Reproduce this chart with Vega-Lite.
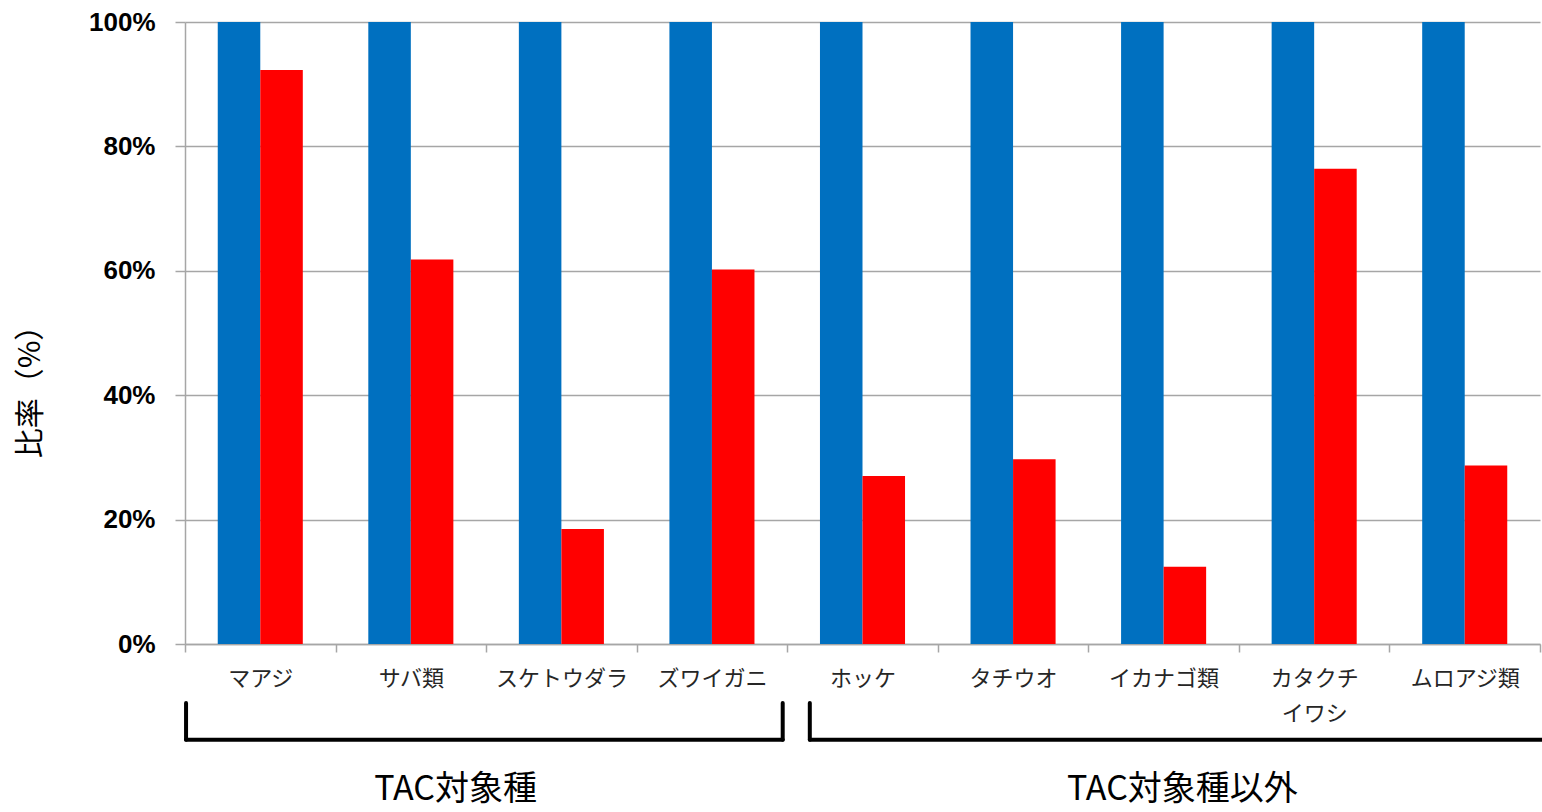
{
  "$schema": "https://vega.github.io/schema/vega-lite/v6.json",
  "width": 1355,
  "height": 622,
  "autosize": {"type": "none"},
  "padding": {"left": 185, "top": 22, "right": 2, "bottom": 168},
  "background": "white",
  "config": {"view": {"stroke": null}, "font": "Noto Sans CJK JP"},
  "datasets": {
    "ratio": [
      {"species": "マアジ", "series": "基準", "value": 1.0},
      {"species": "マアジ", "series": "比率", "value": 0.923},
      {"species": "サバ類", "series": "基準", "value": 1.0},
      {"species": "サバ類", "series": "比率", "value": 0.618},
      {"species": "スケトウダラ", "series": "基準", "value": 1.0},
      {"species": "スケトウダラ", "series": "比率", "value": 0.185},
      {"species": "ズワイガニ", "series": "基準", "value": 1.0},
      {"species": "ズワイガニ", "series": "比率", "value": 0.602},
      {"species": "ホッケ", "series": "基準", "value": 1.0},
      {"species": "ホッケ", "series": "比率", "value": 0.27},
      {"species": "タチウオ", "series": "基準", "value": 1.0},
      {"species": "タチウオ", "series": "比率", "value": 0.297},
      {"species": "イカナゴ類", "series": "基準", "value": 1.0},
      {"species": "イカナゴ類", "series": "比率", "value": 0.124},
      {"species": "カタクチイワシ", "series": "基準", "value": 1.0},
      {"species": "カタクチイワシ", "series": "比率", "value": 0.764},
      {"species": "ムロアジ類", "series": "基準", "value": 1.0},
      {"species": "ムロアジ類", "series": "比率", "value": 0.287}
    ],
    "groups": [
      {"group": "TAC対象種", "x0": 0.007, "x1": 3.97, "xl": 1.797},
      {"group": "TAC対象種以外", "x0": 4.15, "x1": 9.03, "xl": 6.625}
    ]
  },
  "layer": [
    {
      "data": {"name": "ratio"},
      "mark": {"type": "bar"},
      "encoding": {
        "x": {
          "field": "species",
          "type": "nominal",
          "sort": ["マアジ", "サバ類", "スケトウダラ", "ズワイガニ", "ホッケ", "タチウオ", "イカナゴ類", "カタクチイワシ", "ムロアジ類"],
          "scale": {"paddingInner": 0, "paddingOuter": 0},
          "axis": {
            "title": null,
            "tickBand": "extent",
            "tickSize": 8,
            "tickColor": "#a6a6a6",
            "tickWidth": 1.5,
            "domainColor": "#a6a6a6",
            "domainWidth": 1.5,
            "grid": false,
            "labelAngle": 0,
            "labelFont": "Noto Sans CJK JP",
            "labelFontSize": 22,
            "labelColor": "#262626",
            "labelPadding": 16,
            "labelLineHeight": 35,
            "labelExpr": "datum.value == 'カタクチイワシ' ? ['カタクチ', 'イワシ'] : datum.value"
          }
        },
        "xOffset": {
          "field": "series",
          "type": "nominal",
          "sort": ["基準", "比率"],
          "scale": {"paddingInner": 0, "paddingOuter": 0.77}
        },
        "y": {
          "field": "value",
          "type": "quantitative",
          "scale": {"domain": [0, 1], "nice": false},
          "axis": {
            "title": "比率（%）",
            "format": ".0%",
            "values": [0, 0.2, 0.4, 0.6, 0.8, 1],
            "tickSize": 10,
            "tickColor": "#a6a6a6",
            "tickWidth": 1.5,
            "domainColor": "#a6a6a6",
            "domainWidth": 1.5,
            "gridColor": "#a6a6a6",
            "gridWidth": 1.5,
            "labelFont": "Liberation Sans",
            "labelFontWeight": "bold",
            "labelFontSize": 26,
            "labelColor": "black",
            "labelPadding": 20,
            "titleFont": "Noto Sans CJK JP",
            "titleFontSize": 30,
            "titleFontWeight": "normal",
            "titleColor": "black",
            "titleAngle": 270,
            "titleX": -155,
            "titleY": 362,
            "titleBaseline": "middle"
          }
        },
        "color": {
          "field": "series",
          "type": "nominal",
          "scale": {"domain": ["基準", "比率"], "range": ["#0070C0", "#FF0000"]},
          "legend": null
        }
      }
    },
    {
      "data": {"name": "groups"},
      "mark": {"type": "rule", "color": "black", "strokeWidth": 4, "strokeCap": "round"},
      "encoding": {
        "x": {"field": "x0", "type": "quantitative", "scale": {"domain": [0, 9], "nice": false, "zero": false}, "axis": null},
        "x2": {"field": "x1"},
        "y": {"datum": -0.154, "type": "quantitative"}
      }
    },
    {
      "data": {"name": "groups"},
      "mark": {"type": "rule", "color": "black", "strokeWidth": 4, "strokeCap": "round"},
      "encoding": {
        "x": {"field": "x0", "type": "quantitative", "scale": {"domain": [0, 9], "nice": false, "zero": false}, "axis": null},
        "y": {"datum": -0.095, "type": "quantitative"},
        "y2": {"datum": -0.154}
      }
    },
    {
      "data": {"name": "groups"},
      "mark": {"type": "rule", "color": "black", "strokeWidth": 4, "strokeCap": "round"},
      "encoding": {
        "x": {"field": "x1", "type": "quantitative", "scale": {"domain": [0, 9], "nice": false, "zero": false}, "axis": null},
        "y": {"datum": -0.095, "type": "quantitative"},
        "y2": {"datum": -0.154}
      }
    },
    {
      "data": {"name": "groups"},
      "mark": {"type": "text", "font": "Noto Sans CJK JP", "fontSize": 34, "color": "black", "align": "center", "baseline": "middle"},
      "encoding": {
        "x": {"field": "xl", "type": "quantitative", "scale": {"domain": [0, 9], "nice": false, "zero": false}, "axis": null},
        "y": {"datum": -0.234, "type": "quantitative"},
        "text": {"field": "group", "type": "nominal"}
      }
    }
  ],
  "resolve": {"scale": {"x": "independent"}}
}
